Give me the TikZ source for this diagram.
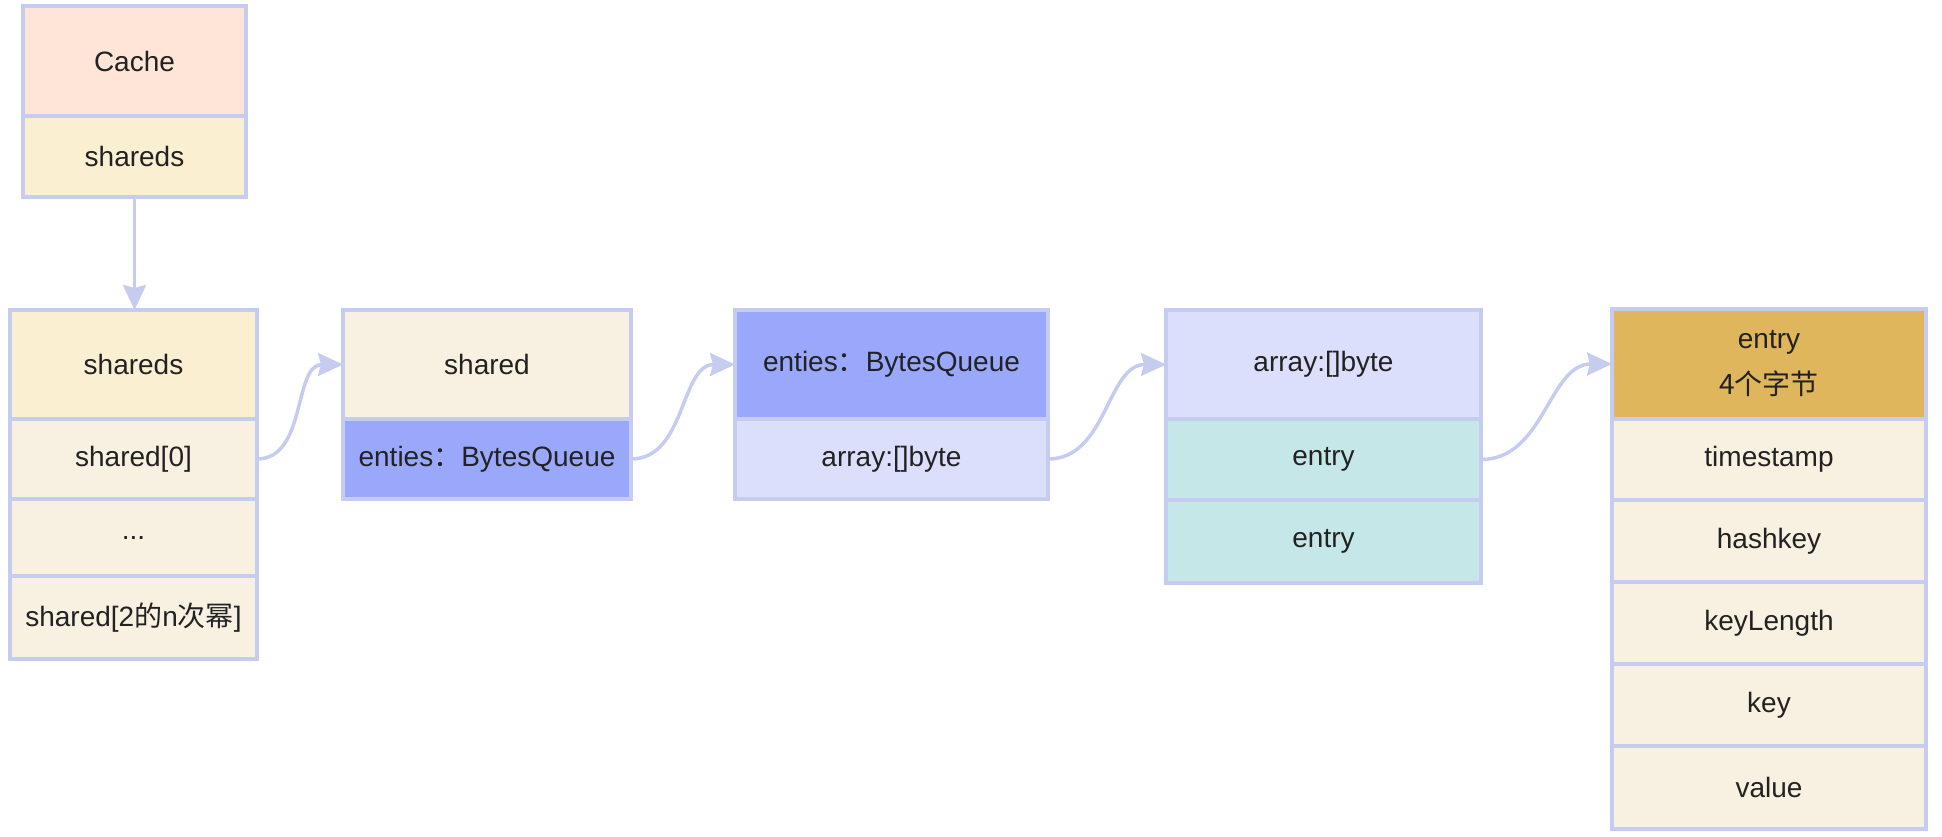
\documentclass[tikz,border=0pt]{standalone}
\usepackage{fontspec}
\setmainfont{Liberation Sans}
\newfontfamily\cjk{Noto Sans CJK SC}
\usetikzlibrary{arrows.meta}

\definecolor{edgeblue}{HTML}{C6CCF0}
\definecolor{peach}{HTML}{FEE5D7}
\definecolor{paleyellow}{HTML}{FAF0D1}
\definecolor{beige}{HTML}{F8F0E0}
\definecolor{periwinkle}{HTML}{99A8FB}
\definecolor{lavender}{HTML}{DCDFFC}
\definecolor{paleteal}{HTML}{C6E7E8}
\definecolor{gold}{HTML}{DFB65B}
\definecolor{textdark}{HTML}{222222}

\begin{document}
\begin{tikzpicture}[x=1pt,y=-1pt,
    cell/.style={rectangle,draw=edgeblue,line width=3.5pt,outer sep=0pt,inner sep=0pt,
        text=textdark,font=\fontsize{28}{46}\selectfont,align=center},
    link/.style={draw=edgeblue,line width=3.5pt,-{Stealth[length=25pt,width=23pt,inset=3pt]}}]
        \useasboundingbox (0,0) rectangle (1942,836);

        % Cache
        \node[cell,fill=peach,minimum width=223pt,minimum height=110pt] (cache) at (134.5,61) {Cache};
        \node[cell,fill=paleyellow,minimum width=223pt,minimum height=81pt] (cacheShareds) at (134.5,156.5) {shareds};

        % shareds
        \node[cell,fill=paleyellow,minimum width=247pt,minimum height=109pt] (shareds) at (133.5,364.5) {shareds};
        \node[cell,fill=beige,minimum width=247pt,minimum height=80pt] (shared0) at (133.5,459) {shared[0]};
        \node[cell,fill=beige,minimum width=247pt,minimum height=77pt] (sharedDots) at (133.5,537.5) {...};
        \node[cell,fill=beige,minimum width=247pt,minimum height=83pt] (sharedN) at (133.5,617.5) {shared[2{\cjk 的}n{\cjk 次幂}]};

        % shared
        \node[cell,fill=beige,minimum width=288pt,minimum height=109pt] (shared) at (487,364.5) {shared};
        \node[cell,fill=periwinkle,minimum width=288pt,minimum height=80pt] (sharedEnties) at (487,459) {enties{\cjk ：}BytesQueue};

        % enties
        \node[cell,fill=periwinkle,minimum width=313pt,minimum height=109pt] (enties) at (891.5,364.5) {enties{\cjk ：}BytesQueue};
        \node[cell,fill=lavender,minimum width=313pt,minimum height=80pt] (entiesArray) at (891.5,459) {array:[]byte};

        % array
        \node[cell,fill=lavender,minimum width=315pt,minimum height=109pt] (array) at (1323.5,364.5) {array:[]byte};
        \node[cell,fill=paleteal,minimum width=315pt,minimum height=81pt] (arrayEntry1) at (1323.5,459.5) {entry};
        \node[cell,fill=paleteal,minimum width=315pt,minimum height=83pt] (arrayEntry2) at (1323.5,541.5) {entry};

        % entry
        \node[cell,fill=gold,minimum width=314pt,minimum height=110pt] (entry) at (1769,364) {entry\\{\cjk 4个字节}};
        \node[cell,fill=beige,minimum width=314pt,minimum height=81pt] (timestamp) at (1769,459.5) {timestamp};
        \node[cell,fill=beige,minimum width=314pt,minimum height=82pt] (hashkey) at (1769,541) {hashkey};
        \node[cell,fill=beige,minimum width=314pt,minimum height=82pt] (keyLength) at (1769,623) {keyLength};
        \node[cell,fill=beige,minimum width=314pt,minimum height=82pt] (key) at (1769,705) {key};
        \node[cell,fill=beige,minimum width=314pt,minimum height=83pt] (value) at (1769,787.5) {value};

        \draw[link] (cacheShareds.south) -- (cacheShareds.south |- shareds.north);
        \draw[link] (shared0.east) to[out=0,in=180] (shared.west);
        \draw[link] (sharedEnties.east) to[out=0,in=180] (enties.west);
        \draw[link] (entiesArray.east) to[out=0,in=180] (array.west);
        \draw[link] (arrayEntry1.east) to[out=0,in=180] (entry.west);

    \end{tikzpicture}
\end{document}
